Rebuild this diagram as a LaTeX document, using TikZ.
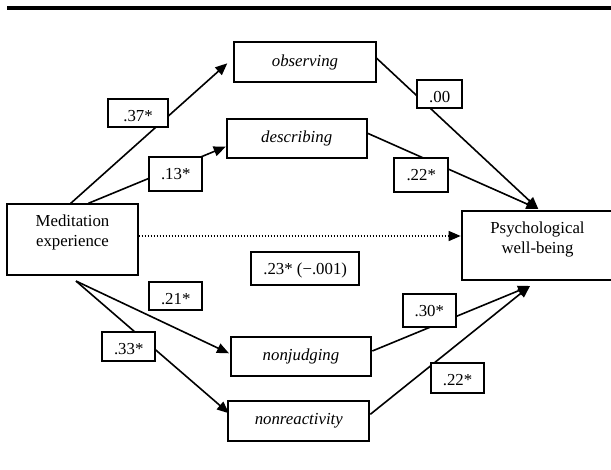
\documentclass[tikz,border=0pt]{standalone}
\usepackage{fontspec}
\setmainfont{Liberation Serif}
\usetikzlibrary{arrows.meta}
\begin{document}
\begin{tikzpicture}[x=1pt,y=-1pt,
  txt/.style={font=\fontsize{16.8}{20}\selectfont},
  varbox/.style={draw, line width=2pt, inner sep=0pt, font=\fontsize{16.8}{20}\selectfont\itshape},
  bigbox/.style={draw, line width=2pt, inner sep=0pt},
  coef/.style={draw, fill=white, line width=1.9pt, inner sep=0pt, text height=22.6pt, font=\fontsize{16.8}{20}\selectfont},
  conn/.style={line width=1.6pt, -{Triangle[length=12pt,width=10pt]}},
  link/.style={line width=1.6pt}]
\useasboundingbox (0,0) rectangle (611,469);
% top rule
\coordinate (ruleL) at (7,8);
\coordinate (ruleR) at (620,8);
\draw[line width=3.2pt] (ruleL) -- (ruleR);
% boxes
\node[varbox, minimum width=141.4pt, minimum height=40pt] (obs) at (305,62.3) {observing};
\node[varbox, minimum width=140pt, minimum height=39.3pt] (desc) at (296.7,138.7) {describing};
\node[varbox, minimum width=140.6pt, minimum height=39.3pt] (nonj) at (301,356.3) {nonjudging};
\node[varbox, minimum width=141pt, minimum height=39.7pt] (nonr) at (298.8,420.8) {nonreactivity};
\node[bigbox, minimum width=130.4pt, minimum height=70.7pt] (med) at (72.5,239.7) {};
\node[txt, align=center, inner sep=0pt] (medt) at (72.5,232.8) {Meditation\\experience};
\node[bigbox, minimum width=151.3pt, minimum height=69pt] (psy) at (537.3,245.5) {};
\node[txt, align=center, inner sep=0pt] (psyt) at (537.5,239) {Psychological\\well-being};
% connectors
\draw[conn] ([xshift=-1.8pt]med.north) -- ([xshift=-6pt,yshift=-1pt]obs.west);
\draw[conn] ([xshift=15.8pt]med.north) -- ([yshift=-8pt]desc.west);
\draw[conn] ([yshift=4pt]obs.east) -- ([xshift=1pt,yshift=1pt]psy.north);
\draw[conn] ([yshift=5.4pt]desc.east) -- ([xshift=1pt,yshift=1pt]psy.north);
\draw[conn, line width=1.4pt, dash pattern=on 1.4pt off 1.6pt] ([yshift=3.7pt]med.east) -- ([yshift=3.7pt]med.east -| psy.west);
\draw[conn] ([xshift=3.5pt,yshift=-5pt]med.south) -- ([xshift=-0.7pt,yshift=3pt]nonj.west);
\draw[conn] ([xshift=3.5pt,yshift=-5pt]med.south) -- ([xshift=1.7pt,yshift=7.5pt]nonr.west);
\draw[conn] ([yshift=5.3pt]nonj.east) -- ([xshift=-7.3pt,yshift=-5pt]psy.south);
\draw[conn] ([yshift=6.5pt]nonr.east) -- ([xshift=-7.3pt,yshift=-5pt]psy.south);
% coefficients
\node[coef, minimum width=59.4pt, text depth=5.1pt] (l37) at (138,112.8) {.37*};
\node[coef, minimum width=52.7pt, text depth=11.7pt] (l13) at (175.7,173.8) {.13*};
\node[coef, minimum width=44.7pt, text depth=5.7pt] (l00) at (439.7,94.2) {.00};
\node[coef, minimum width=54.3pt, text depth=12pt] (l22a) at (421.2,175) {.22*};
\node[coef, minimum width=108.3pt, text depth=10.1pt] (l23) at (305.2,268.7) {.23* (\char"2212.001)};
\node[coef, minimum width=53.3pt, text depth=5.7pt] (l21) at (175.7,295.8) {.21*};
\node[coef, minimum width=52.7pt, text depth=6.7pt] (l33) at (128.7,346.3) {.33*};
\node[coef, minimum width=53.3pt, text depth=9.8pt] (l30) at (429.3,310.5) {.30*};
\node[coef, minimum width=53.6pt, text depth=8pt] (l22b) at (457.5,378) {.22*};
\end{tikzpicture}
\end{document}
